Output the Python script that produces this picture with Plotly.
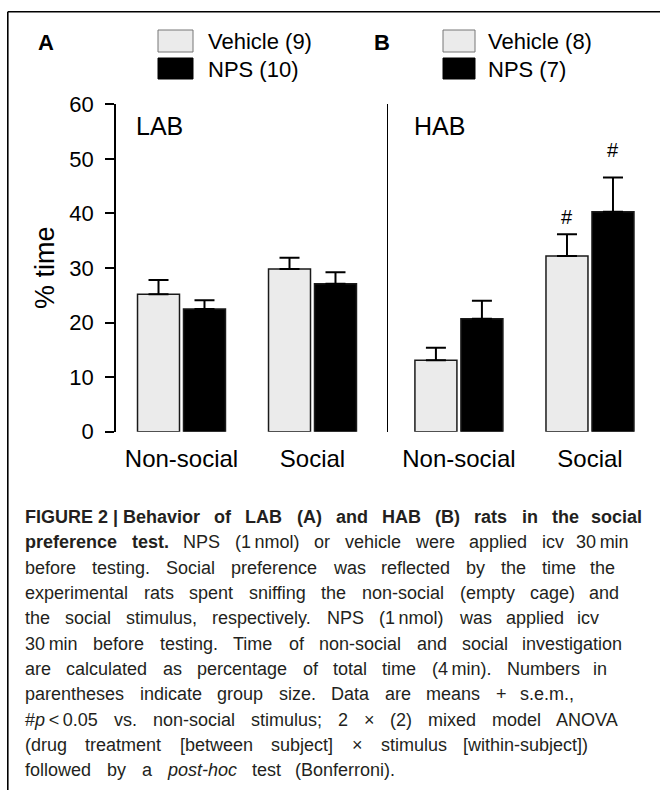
import plotly.graph_objects as go

# ---------------- data ----------------
categories = ["Non-social", "Social"]
y_ticks = [0, 10, 20, 30, 40, 50, 60]

lab_vehicle = [25.2, 29.8]
lab_vehicle_sem = [2.6, 2.1]
lab_nps = [22.5, 27.1]
lab_nps_sem = [1.6, 2.1]

hab_vehicle = [13.1, 32.2]
hab_vehicle_sem = [2.3, 4.0]
hab_nps = [20.7, 40.3]
hab_nps_sem = [3.3, 6.3]

# significance (#p<0.05 vs non-social) for HAB: vehicle, NPS
hab_vehicle_sig = [False, True]
hab_nps_sig = [False, True]

lab_n = [9, 10]   # Vehicle, NPS
hab_n = [8, 7]
treatments = ["Vehicle", "NPS"]

caption_lines = [
    "FIGURE\u00a02\u00a0|\u00a0Behavior of LAB (A) and HAB (B) rats in the social",
    "preference test. NPS (1\u2009nmol) or vehicle were applied icv 30\u2009min",
    "before testing. Social preference was reflected by the time the",
    "experimental rats spent sniffing the non-social (empty cage) and",
    "the social stimulus, respectively. NPS (1\u2009nmol) was applied icv",
    "30\u2009min before testing. Time of non-social and social investigation",
    "are calculated as percentage of total time (4\u2009min). Numbers in",
    "parentheses indicate group size. Data are means + s.e.m.,",
    "#p\u2009<\u20090.05 vs. non-social stimulus; 2 \u00d7 (2) mixed model ANOVA",
    "(drug treatment [between subject] \u00d7 stimulus [within-subject])",
    "followed by a post-hoc test (Bonferroni).",
]
caption_bold_words = [99, 2, 0, 0, 0, 0, 0, 0, 0, 0, 0]

# ---------------- helpers ----------------
W, H = 660, 790
FONT = "Liberation Sans, Arial, Helvetica, sans-serif"
VEH_FILL = "#ebebeb"
EDGE = "#1a1a1a"


def px(x):
    return x / W


def py(y):
    return 1 - y / H


REG = {' ': 278, '!': 278, '#': 556, '%': 889, '(': 333, ')': 333, '+': 584, ',': 278,
       '-': 333, '.': 278, ':': 278, ';': 278, '<': 584, '[': 278, ']': 278, '|': 260,
       '\u00d7': 584, '\u2009': 200, '\u00a0': 278,
       'A': 667, 'B': 667, 'C': 722, 'D': 722, 'E': 667, 'F': 611, 'G': 778, 'H': 722,
       'I': 278, 'L': 556, 'M': 833, 'N': 722, 'O': 778, 'P': 667, 'R': 722, 'S': 667,
       'T': 611, 'U': 722, 'V': 667,
       'a': 556, 'b': 556, 'c': 500, 'd': 556, 'e': 556, 'f': 278, 'g': 556, 'h': 556,
       'i': 222, 'j': 222, 'k': 500, 'l': 222, 'm': 833, 'n': 556, 'o': 556, 'p': 556,
       'q': 556, 'r': 333, 's': 500, 't': 278, 'u': 556, 'v': 500, 'w': 722, 'x': 500,
       'y': 500, 'z': 500}
BOLD = dict(REG)
BOLD.update({'A': 722, 'B': 722, 'L': 611, 'H': 722, '|': 280, 'b': 611, 'c': 556,
             'd': 611, 'f': 333, 'h': 611, 'i': 278, 'l': 278, 'n': 611, 'o': 611,
             'p': 611, 'r': 389, 's': 556, 't': 333, 'v': 556, 'I': 278, 'G': 778,
             'R': 722, 'U': 722, 'F': 611, 'E': 667})


def text_width(s, size, bold=False):
    tab = BOLD if bold else REG
    return sum(tab.get(c, 556) for c in s) * size / 1000.0


def render_word(w, bold):
    t = w.replace("&", "&amp;").replace("<", "&lt;")
    if t.startswith("#p"):
        t = "#<i>p</i>" + t[2:]
    if t == "post-hoc":
        t = "<i>post-hoc</i>"
    if bold:
        t = "<b>" + t + "</b>"
    return t


# ---------------- figure ----------------
fig = go.Figure()

err_style = dict(type="data", symmetric=False, color="black", thickness=2, width=10)

fig.add_trace(go.Bar(x=categories, y=lab_vehicle, name="Vehicle", xaxis="x", yaxis="y",
                     marker=dict(color=VEH_FILL, line=dict(color=EDGE, width=1.5)),
                     error_y=dict(array=lab_vehicle_sem, arrayminus=[0] * 2, **err_style),
                     offsetgroup="veh", showlegend=False))
fig.add_trace(go.Bar(x=categories, y=lab_nps, name="NPS", xaxis="x", yaxis="y",
                     marker=dict(color="black", line=dict(color=EDGE, width=1.5)),
                     error_y=dict(array=lab_nps_sem, arrayminus=[0] * 2, **err_style),
                     offsetgroup="nps", showlegend=False))
fig.add_trace(go.Bar(x=categories, y=hab_vehicle, name="Vehicle", xaxis="x2", yaxis="y2",
                     marker=dict(color=VEH_FILL, line=dict(color=EDGE, width=1.5)),
                     error_y=dict(array=hab_vehicle_sem, arrayminus=[0] * 2, **err_style),
                     offsetgroup="veh", showlegend=False))
fig.add_trace(go.Bar(x=categories, y=hab_nps, name="NPS", xaxis="x2", yaxis="y2",
                     marker=dict(color="black", line=dict(color=EDGE, width=1.5)),
                     error_y=dict(array=hab_nps_sem, arrayminus=[0] * 2, **err_style),
                     offsetgroup="nps", showlegend=False))

ydom = [py(431.7), py(104.3)]

annotations = []
shapes = []

# significance marks
for vals, sems, sig, xs, ys in [(hab_vehicle, hab_vehicle_sem, hab_vehicle_sig, -23, 17),
                               (hab_nps, hab_nps_sem, hab_nps_sig, 23, 27.5)]:
    for i, c in enumerate(categories):
        if sig[i]:
            annotations.append(dict(x=c, y=vals[i] + sems[i], xref="x2", yref="y2",
                                    text="#", showarrow=False, xshift=xs, yshift=ys,
                                    xanchor="center", yanchor="middle",
                                    font=dict(size=20, color="black")))

# panel letters & group labels
labels = [
    dict(x=px(45.5), y=py(43), text="<b>A</b>", font=dict(size=22)),
    dict(x=px(382), y=py(43), text="<b>B</b>", font=dict(size=22)),
    dict(x=px(134), y=py(126), text="LAB", xanchor="left", font=dict(size=25)),
    dict(x=px(412), y=py(126), text="HAB", xanchor="left", font=dict(size=25)),
    dict(x=px(45), y=py(268), text="% time", textangle=-90, font=dict(size=27)),
]
for a in labels:
    a.setdefault("xref", "paper")
    a.setdefault("yref", "paper")
    a.setdefault("showarrow", False)
    a.setdefault("xanchor", "center")
    a.setdefault("yanchor", "middle")
annotations += labels

# custom legends
for (bx0, bx1, tx, ns) in [(158, 193, 206, lab_n), (443, 475, 486, hab_n)]:
    for k, (tname, n) in enumerate(zip(treatments, ns)):
        y0, y1 = (30, 52) if k == 0 else (58, 79)
        shapes.append(dict(type="rect", xref="paper", yref="paper",
                           x0=px(bx0), x1=px(bx1), y0=py(y1), y1=py(y0),
                           fillcolor=VEH_FILL if k == 0 else "black",
                           line=dict(color="#777777" if k == 0 else "black", width=1)))
        annotations.append(dict(x=px(tx), y=py((y0 + y1) / 2 + 0.5), xref="paper", yref="paper",
                                text=f"{tname} ({n})", showarrow=False, xanchor="left",
                                yanchor="middle", font=dict(size=22)))

# frame (top & left)
shapes.append(dict(type="line", xref="paper", yref="paper", x0=px(7.8), x1=1.0,
                   y0=py(11.7), y1=py(11.7), line=dict(color="black", width=1.6)))
shapes.append(dict(type="line", xref="paper", yref="paper", x0=px(7.8), x1=px(7.8),
                   y0=py(11.7), y1=0.0, line=dict(color="black", width=1.6)))

# caption, justified word by word
cap_size = 18
line_y = [517, 542, 568, 593, 618, 644, 669, 694, 720, 745, 770]
line_end = [643, 630, 616, 620, 600, 623, 608, 575, 619, 589, 396]
x_start = 24
for li, line in enumerate(caption_lines):
    words = line.split(" ")
    nb = caption_bold_words[li]
    bolds = [i < nb for i in range(len(words))]
    widths = [text_width(w, cap_size, b) for w, b in zip(words, bolds)]
    gap = (line_end[li] - x_start - sum(widths)) / max(len(words) - 1, 1)
    xcur = x_start
    for i, (w, b, wd) in enumerate(zip(words, bolds, widths)):
        if i == len(words) - 1 and len(words) > 1:
            ann = dict(x=px(line_end[li]), xanchor="right")
        else:
            ann = dict(x=px(xcur), xanchor="left")
        ann.update(y=py(line_y[li]), yanchor="middle", xref="paper", yref="paper",
                   text=render_word(w, b), showarrow=False, borderpad=0,
                   font=dict(size=cap_size, color="#231f20"))
        annotations.append(ann)
        xcur += wd + gap

axis_common = dict(showgrid=False, zeroline=False, color="black")

fig.update_layout(
    width=W, height=H, autosize=False,
    margin=dict(l=0, r=0, t=0, b=0, autoexpand=False),
    paper_bgcolor="white", plot_bgcolor="white",
    font=dict(family=FONT, color="black"),
    barmode="group", bargap=0.298, bargroupgap=0.087,
    showlegend=False,
    xaxis=dict(domain=[px(116), px(378)], type="category", categoryarray=categories,
               range=[-0.5, 1.5], anchor="y", showline=False, ticks="",
               tickfont=dict(size=24), ticklabelstandoff=10, **axis_common),
    yaxis=dict(domain=ydom, range=[0, 60], anchor="x", showline=True, linewidth=1.5,
               linecolor="black", ticks="outside", ticklen=9, tickwidth=1.5,
               tickcolor="black", tickvals=y_ticks, tickfont=dict(size=22),
               ticklabelstandoff=7, **axis_common),
    xaxis2=dict(domain=[px(387.5), px(655.5)], type="category", categoryarray=categories,
                range=[-0.545, 1.5], anchor="y2", showline=False, ticks="",
                tickfont=dict(size=24), ticklabelstandoff=10, **axis_common),
    yaxis2=dict(domain=ydom, range=[0, 60], anchor="x2", showline=True, linewidth=1,
                linecolor="black", ticks="", showticklabels=False, **axis_common),
    annotations=annotations,
    shapes=shapes,
)

fig.write_html("out.html", config={"displayModeBar": False},
               post_script="document.body.style.margin='0px';document.body.style.padding='0px';")
